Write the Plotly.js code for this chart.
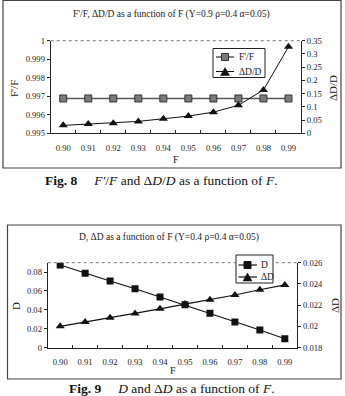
<!DOCTYPE html>
<html>
<head>
<meta charset="utf-8">
<script src="https://cdn.plot.ly/plotly-3.0.1.min.js"></script>
<style>
  html, body { margin: 0; padding: 0; background: #fff; }
  #chart { width: 345px; height: 396px; }
</style>
</head>
<body>
<div id="chart"></div>
<script>
// Category labels shared by both figures
const fValues = ["0.90", "0.91", "0.92", "0.93", "0.94", "0.95", "0.96", "0.97", "0.98", "0.99"];

// Fig. 8: F'/F and ΔD/D (Y=0.9, ρ=0.4, α=0.05)
const ratioFF = [0.99688, 0.99688, 0.99688, 0.99688, 0.99688, 0.99688, 0.99688, 0.99688, 0.99688, 0.99688];
const ratioDD = [0.030, 0.035, 0.038, 0.045, 0.055, 0.065, 0.080, 0.106, 0.164, 0.327];

// Fig. 9: D and ΔD (Y=0.4, ρ=0.4, α=0.05)
const valD = [0.0876, 0.0787, 0.0706, 0.0624, 0.0536, 0.0454, 0.0363, 0.0271, 0.0186, 0.0093];
const valDeltaD = [0.0200, 0.0204, 0.0208, 0.0212, 0.02165, 0.0221, 0.0225, 0.02295, 0.02345, 0.0239];

const W = 345, H = 396;
const px = v => v / W;          // horizontal pixel -> paper fraction
const py = v => 1 - v / H;      // vertical pixel (from top) -> paper fraction

const serif = "Liberation Serif, Times New Roman, serif";
const ink = "#222";

const styleFF = { line: { color: "#555", width: 1.5 }, marker: { fill: "#7a7a7a", edge: "#333" } };
const styleDark = { line: { color: "#111", width: 1.2 }, marker: { fill: "#111", edge: "#111" } };

const traces = [
  {
    x: fValues, y: ratioFF, name: "F'/F", xaxis: "x", yaxis: "y",
    mode: "lines+markers",
    line: styleFF.line,
    marker: { symbol: "square", size: 7, color: styleFF.marker.fill, line: { color: styleFF.marker.edge, width: 1 } }
  },
  {
    x: fValues, y: ratioDD, name: "ΔD/D", xaxis: "x", yaxis: "y2",
    mode: "lines+markers",
    line: { color: "#111", width: 1 },
    marker: { symbol: "triangle-up", size: 8, color: "#111" }
  },
  {
    x: fValues, y: valD, name: "D", xaxis: "x2", yaxis: "y3",
    mode: "lines+markers",
    line: styleDark.line,
    marker: { symbol: "square", size: 7, color: "#111" }
  },
  {
    x: fValues, y: valDeltaD, name: "ΔD", xaxis: "x2", yaxis: "y4",
    mode: "lines+markers",
    line: styleDark.line,
    marker: { symbol: "triangle-up", size: 8, color: "#111" }
  }
];

const tickFont = { family: serif, size: 8.6, color: ink };

const xCommon = {
  type: "category", range: [-0.5, 9.5], tickson: "boundaries",
  ticks: "inside", ticklen: 3, tickcolor: ink, tickangle: 0,
  showline: true, linecolor: ink, linewidth: 1,
  showgrid: false, zeroline: false, tickfont: tickFont,
  ticklabelstandoff: 6, fixedrange: true
};
const yCommon = {
  ticks: "outside", ticklen: 3, tickcolor: ink,
  showline: true, linecolor: ink, linewidth: 1,
  showgrid: false, zeroline: false, tickfont: tickFont, fixedrange: true
};

// plot areas in pixels
const top1 = 40.7, bot1 = 133.3, left1 = 50.7, right1 = 301;
const top2 = 262.7, bot2 = 347.5, left2 = 47.7, right2 = 297.3;

// ---- legend boxes drawn as shapes + text ----
function squareShape(cx, cy, s, fill, edge) {
  return { type: "rect", xref: "paper", yref: "paper",
    x0: px(cx - s / 2), x1: px(cx + s / 2), y0: py(cy + s / 2), y1: py(cy - s / 2),
    fillcolor: fill, line: { color: edge, width: 1 } };
}
function triangleShape(cx, cy, w, h, fill) {
  const p = (x, y) => px(x) + "," + py(y);
  return { type: "path", xref: "paper", yref: "paper",
    path: "M" + p(cx, cy - h / 2) + " L" + p(cx - w / 2, cy + h / 2) + " L" + p(cx + w / 2, cy + h / 2) + " Z",
    fillcolor: fill, line: { color: fill, width: 0.5 } };
}
function lineShape(x0, x1, y, line) {
  return { type: "line", xref: "paper", yref: "paper", x0: px(x0), x1: px(x1), y0: py(y), y1: py(y), line: line };
}
function boxShape(x0, x1, y0, y1) {
  return { type: "rect", xref: "paper", yref: "paper", x0: px(x0), x1: px(x1), y0: py(y1), y1: py(y0),
    fillcolor: "#fff", line: { color: ink, width: 1 } };
}

const legendShapes = [
  boxShape(213, 265, 48.5, 77.5),
  lineShape(216, 234, 57, styleFF.line),
  squareShape(225, 57, 7, styleFF.marker.fill, styleFF.marker.edge),
  lineShape(216, 234, 71.5, { color: "#111", width: 1 }),
  triangleShape(225, 71.5, 9, 8, "#111"),

  boxShape(236, 273, 255, 283),
  lineShape(238.5, 257, 265, styleDark.line),
  squareShape(247.5, 265, 7, "#111", "#111"),
  lineShape(238.5, 257, 277, styleDark.line),
  triangleShape(247.5, 277, 9, 8, "#111")
];

const legendFont = { family: serif, size: 9.5, color: ink };
const legendText = [
  { text: traces[0].name, x: px(237), y: py(57), xanchor: "left", font: legendFont },
  { text: traces[1].name, x: px(237), y: py(71.5), xanchor: "left", font: legendFont },
  { text: traces[2].name, x: px(258.5), y: py(265), xanchor: "left", font: legendFont },
  { text: traces[3].name, x: px(258.5), y: py(277), xanchor: "left", font: legendFont }
];

const layout = {
  width: W, height: H,
  margin: { l: 0, r: 0, t: 0, b: 0 },
  paper_bgcolor: "#fff", plot_bgcolor: "rgba(0,0,0,0)",
  showlegend: false,
  xaxis: Object.assign({}, xCommon, { domain: [px(left1), px(right1)], anchor: "y" }),
  yaxis: Object.assign({}, yCommon, { domain: [py(bot1), py(top1)], anchor: "x", range: [0.995, 1], dtick: 0.001, tick0: 0.995 }),
  yaxis2: Object.assign({}, yCommon, { overlaying: "y", side: "right", anchor: "x", range: [0, 0.35], dtick: 0.05, tick0: 0 }),
  xaxis2: Object.assign({}, xCommon, { domain: [px(left2), px(right2)], anchor: "y3" }),
  yaxis3: Object.assign({}, yCommon, { domain: [py(bot2), py(top2)], anchor: "x2", range: [0, 0.09], dtick: 0.02, tick0: 0 }),
  yaxis4: Object.assign({}, yCommon, { overlaying: "y3", side: "right", anchor: "x2", range: [0.018, 0.026], dtick: 0.002, tick0: 0.018 }),
  shapes: [
    // figure frames
    { type: "rect", xref: "paper", yref: "paper", x0: px(3), x1: px(341), y0: py(168), y1: py(0.5),
      line: { color: "#444", width: 1.2 }, fillcolor: "rgba(0,0,0,0)", layer: "below" },
    { type: "rect", xref: "paper", yref: "paper", x0: px(7.5), x1: px(341), y0: py(379), y1: py(225),
      line: { color: "#444", width: 1.2 }, fillcolor: "rgba(0,0,0,0)", layer: "below" },
    // dotted upper edge of each plot area
    lineShape(left1, right1, top1, { color: "#777", width: 1, dash: "dot" }),
    lineShape(left2, right2, top2, { color: "#777", width: 1, dash: "dot" })
  ].concat(legendShapes),
  annotations: [
    { text: "F'/F, ΔD/D as a function of F (Y=0.9 ρ=0.4 α=0.05)", x: px(171.5), y: py(14),
      font: { family: serif, size: 9.5, color: ink } },
    { text: "F'/F", x: px(14), y: py(88), textangle: -90, font: { family: serif, size: 11, color: ink } },
    { text: "ΔD/D", x: px(333), y: py(88), textangle: -90, font: { family: serif, size: 11, color: ink } },
    { text: "F", x: px(176), y: py(159), font: { family: serif, size: 10, color: ink } },
    { text: "<b>Fig. 8</b>\u00a0\u00a0\u00a0\u00a0\u00a0<i>F′</i>/<i>F</i> and Δ<i>D</i>/<i>D</i> as a function of <i>F</i>.",
      x: px(161.5), y: py(180), font: { family: serif, size: 13.5, color: "#111" } },

    { text: "D, ΔD as a function of F (Y=0.4 ρ=0.4 α=0.05)", x: px(169), y: py(237.7),
      font: { family: serif, size: 9.5, color: ink } },
    { text: "D", x: px(16), y: py(306), textangle: -90, font: { family: serif, size: 11, color: ink } },
    { text: "ΔD", x: px(335), y: py(306), textangle: -90, font: { family: serif, size: 11, color: ink } },
    { text: "F", x: px(172.5), y: py(370.7), font: { family: serif, size: 10, color: ink } },
    { text: "<b>Fig. 9</b>\u00a0\u00a0\u00a0\u00a0\u00a0<i>D</i> and Δ<i>D</i> as a function of <i>F</i>.",
      x: px(171.5), y: py(388), font: { family: serif, size: 13.5, color: "#111" } }
  ].concat(legendText)
   .map(a => Object.assign({ xref: "paper", yref: "paper", showarrow: false, xanchor: "center", yanchor: "middle" }, a))
};

Plotly.newPlot("chart", traces, layout, { staticPlot: true, displayModeBar: false });
</script>
</body>
</html>
